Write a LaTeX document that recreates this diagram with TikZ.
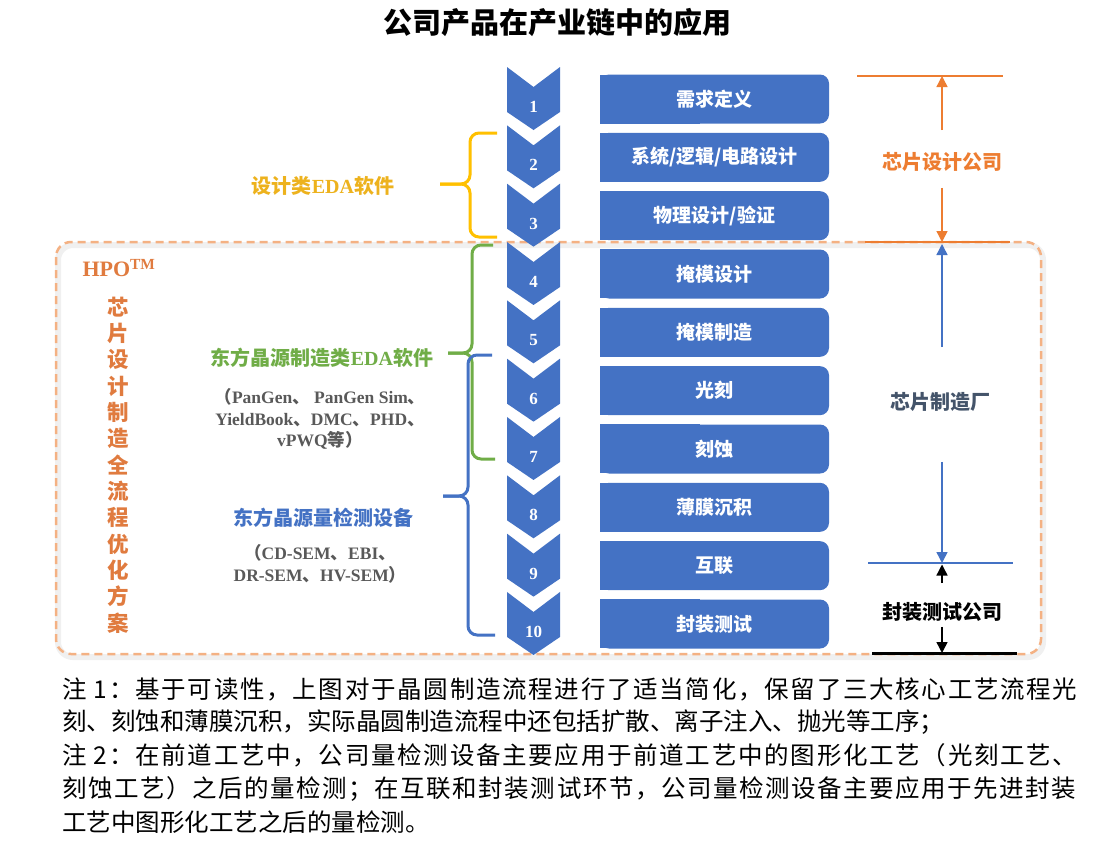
\documentclass[tikz,border=0pt]{standalone}
\usepackage{fontspec}
\setmainfont{Liberation Serif}
\newfontfamily\cjk{Noto Sans CJK SC}
\newcommand\zhs[1]{{\cjk #1}}
\usetikzlibrary{arrows.meta,calc}
\definecolor{cblue}{HTML}{4472C4}
\definecolor{corange}{HTML}{ED7D31}
\definecolor{cdash}{HTML}{F4B183}
\definecolor{cyellow}{HTML}{FFC000}
\definecolor{cyeltext}{HTML}{EDB21D}
\definecolor{cgreen}{HTML}{70AD47}
\definecolor{cgray}{HTML}{595959}
\definecolor{cslate}{HTML}{44546A}
\definecolor{chpo}{HTML}{E07B3F}
\tikzset{
  stepnum/.style={text=white,inner sep=0,font=\fontsize{17}{17}\selectfont\bfseries},
  stepbox/.style={fill=cblue,rounded corners=9pt,minimum width=229pt,minimum height=49pt,inner sep=0,text=white,font=\cjk\bfseries\fontsize{19}{19}\selectfont},
  rlabel/.style={inner sep=0,font=\cjk\bfseries\fontsize{20}{20}\selectfont},
  llabel/.style={inner sep=0,font=\bfseries\fontsize{20}{20}\selectfont},
  sublabel/.style={inner sep=0,align=center,text=cgray,font=\bfseries\fontsize{17.5}{21.5}\selectfont},
  darr/.style={-{Triangle[width=11pt,length=11pt]},line width=1.4pt},
  brace/.style={line width=3pt,rounded corners=9pt},
  hline/.style={line width=2.5pt},
  note/.style={anchor=west,inner sep=0,font=\cjk\fontsize{24.5}{24.5}\selectfont},
  vch/.style={inner sep=0,text=chpo,font=\cjk\bfseries\fontsize{21.5}{21.5}\selectfont}
}
\begin{document}
\begin{tikzpicture}[x=1pt,y=-1pt]
\useasboundingbox (0,0) rectangle (1115,855);
\fill[white] (0,0) rectangle (1115,855);

% title
\node[inner sep=0,font=\cjk\bfseries\fontsize{29}{29}\selectfont] (title) at (557,22) {公司产品在产业链中的应用};

% dashed frame with soft shadow
\draw[black!6,line width=6pt,rounded corners=15pt] (58,245) rectangle (1043,657);
\draw[cdash,line width=2.5pt,dash pattern=on 8pt off 5pt,rounded corners=15pt] (56,242) rectangle (1041,654);

% chevrons
\foreach \i in {1,...,10}{
  \pgfmathsetmacro\t{67+58.33*(\i-1)}
  \fill[cblue] (507,\t) -- (533.5,\t+20) -- (560,\t) -- (560,\t+45) -- (533.5,\t+63) -- (507,\t+45) -- cycle;
  \node[stepnum] (c\i) at (533.5,\t+40) {\i};
  \pgfmathsetmacro\yc{99+58.33*(\i-1)}
  \fill[cblue] (600,\yc-24.5) rectangle (700,\yc+24.5);
}

% step boxes
\node[stepbox] (b1) at (714.5,99) {需求定义};
\node[stepbox] (b2) at (714.5,157.33) {系统/逻辑/电路设计};
\node[stepbox] (b3) at (714.5,215.67) {物理设计/验证};
\node[stepbox] (b4) at (714.5,274) {掩模设计};
\node[stepbox] (b5) at (714.5,332.33) {掩模制造};
\node[stepbox] (b6) at (714.5,390.67) {光刻};
\node[stepbox] (b7) at (714.5,449) {刻蚀};
\node[stepbox] (b8) at (714.5,507.33) {薄膜沉积};
\node[stepbox] (b9) at (714.5,565.67) {互联};
\node[stepbox] (b10) at (714.5,624) {封装测试};

% right side markers
\coordinate (oL1) at (857,76);  \coordinate (oR1) at (1003,76);
\coordinate (oL2) at (865,242); \coordinate (oR2) at (1010,242);
\coordinate (bL) at (868,563);  \coordinate (bR) at (1013,563);
\coordinate (kL) at (872,653);  \coordinate (kR) at (1017,653);
\draw[corange,hline] (oL1) -- (oR1);
\draw[corange,hline] (oL2) -- (oR2);
\draw[cblue,hline] (bL) -- (bR);
\draw[black,line width=3pt] (kL) -- (kR);

\node[rlabel,text=corange] (design) at (942,162) {芯片设计公司};
\node[rlabel,text=cslate] (fab) at (940,402) {芯片制造厂};
\node[rlabel,text=black] (pkg) at (942,612) {封装测试公司};

\draw[darr,corange] ($(design.north)+(0,-22)$) -- (design.north |- oL1);
\draw[darr,corange] ($(design.south)+(0,16)$) -- (design.south |- oL2);
\draw[darr,cblue] ($(design.north |- fab.north)+(0,-45)$) -- ($(design.north |- oL2)+(0,2)$);
\draw[darr,cblue] ($(design.south |- fab.south)+(0,50)$) -- (design.south |- bL);
\draw[darr,black] ($(pkg.north)+(0,-19)$) -- ($(pkg.north |- bL)+(0,1.5)$);
\draw[darr,black] ($(pkg.south)+(0,5)$) -- (pkg.south |- kL);

% braces
\draw[cyellow,brace] (497,133) -- (470,133) -- (470,184) -- (440,184);
\draw[cyellow,brace] (440,184) -- (470,184) -- (470,237) -- (497,237);
\draw[cgreen,brace] (493,245) -- (472,245) -- (472,353) -- (448,353);
\draw[cgreen,brace] (448,353) -- (472,353) -- (472,459) -- (495,459);
\draw[cblue,brace] (492,355) -- (468,355) -- (468,496) -- (443,496);
\draw[cblue,brace] (443,496) -- (468,496) -- (468,635) -- (495,635);

% left labels
\node[llabel,text=cyeltext] (edaD) at (323,186) {\zhs{设计类}EDA\zhs{软件}};
\node[llabel,text=cgreen] (edaM) at (322,358) {\zhs{东方晶源制造类}EDA\zhs{软件}};
\node[sublabel] (edaList) at (320,419) {\zhs{（}PanGen\zhs{、} PanGen Sim\zhs{、}\\YieldBook\zhs{、}DMC\zhs{、}PHD\zhs{、}\\vPWQ\zhs{等）}};
\node[llabel,text=cblue] (meas) at (323,518) {\zhs{东方晶源量检测设备}};
\node[sublabel] (measList) at (320,564) {\zhs{（}CD-SEM\zhs{、}EBI\zhs{、}\\DR-SEM\zhs{、}HV-SEM\zhs{）}};

% HPO vertical title
\node[inner sep=0,text=chpo,font=\bfseries\fontsize{22}{22}\selectfont] (hpo) at (119,268) {HPO\textsuperscript{TM}};
\foreach \ch [count=\k from 0] in {芯,片,设,计,制,造,全,流,程,优,化,方,案}{
  \node[vch] (v\k) at (118,307+26.33*\k) {\ch};
}

% notes
\node[note] (n1) at (62,689) {\addfontfeature{LetterSpace=7}注 1：基于可读性，上图对于晶圆制造流程进行了适当简化，保留了三大核心工艺流程光};
\node[note] (n2) at (62,722) {刻、刻蚀和薄膜沉积，实际晶圆制造流程中还包括扩散、离子注入、抛光等工序；};
\node[note] (n3) at (62,755) {\addfontfeature{LetterSpace=7}注 2：在前道工艺中，公司量检测设备主要应用于前道工艺中的图形化工艺（光刻工艺、};
\node[note] (n4) at (62,789) {\addfontfeature{LetterSpace=6.3}刻蚀工艺）之后的量检测；在互联和封装测试环节，公司量检测设备主要应用于先进封装};
\node[note] (n5) at (62,822) {工艺中图形化工艺之后的量检测。};
\end{tikzpicture}
\end{document}
